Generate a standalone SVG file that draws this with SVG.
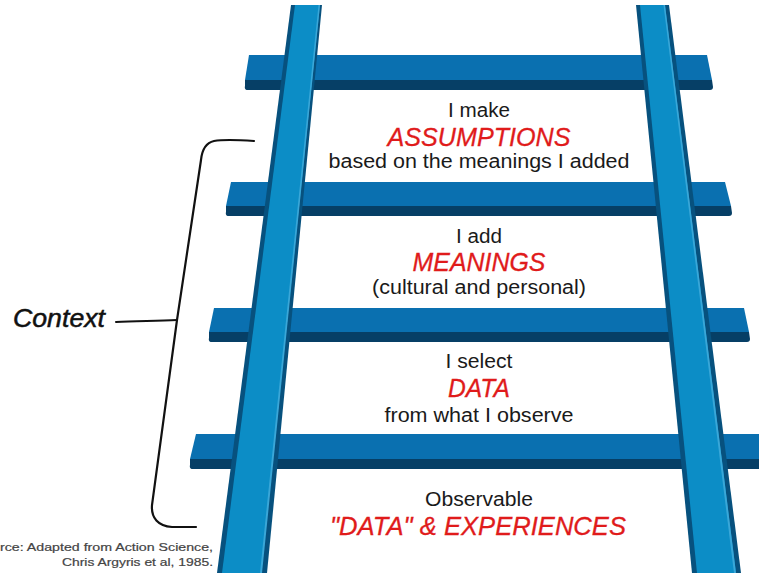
<svg xmlns="http://www.w3.org/2000/svg" width="759" height="573" viewBox="0 0 759 573">
<style>
.top{fill:#0a70b0}.low{fill:#063f66}.rail{fill:#0c8dc6}.edge{fill:#07517e}.side{fill:#0b74ac}.hi{fill:#3aa7d8}
text{font-family:"Liberation Sans",Arial,sans-serif}
.b{font-size:20px;fill:#1a1a1a;text-anchor:middle}
.r{font-size:26px;font-style:italic;fill:#e01b1b;text-anchor:middle;stroke:#e01b1b;stroke-width:.3}
.s{font-family:"Liberation Sans",sans-serif;font-size:11px;fill:#444;stroke:#444;stroke-width:.2;text-anchor:end}
.br{fill:none;stroke:#111;stroke-linecap:round}
</style>
<rect width="759" height="573" fill="#fff"/>
<g id="rungs">
<g id="rung1"><path class="low" d="M245 80H712L713 87Q713 90 710 90H248Q244 90 245 86Z"/><path class="top" d="M249 55H707L712 80H245Z"/></g>
<g id="rung2"><path class="low" d="M226 206H731L732 213Q732 216 729 216H229Q225 216 226 212Z"/><path class="top" d="M231 182H725L731 206H226Z"/></g>
<g id="rung3"><path class="low" d="M209 332H749L750 339Q750 342 747 342H212Q208 342 209 338Z"/><path class="top" d="M214 308H744L749 332H209Z"/></g>
<g id="rung4"><path class="low" d="M190 459H759V469H193Q189 469 190 465Z"/><path class="top" d="M196 434H759V459H190Z"/></g>
</g>
<g id="rails">
<g id="rail-left"><path class="edge" d="M291 5H322L267 573H217Z"/><path class="rail" d="M295 5H320L261 573H222Z"/><path class="hi" d="M318.500 5H320L262 573H260Z"/></g>
<g id="rail-right"><path class="edge" d="M636 5H669L741 573H692Z"/><path class="rail" d="M640 5H665L736 573H697Z"/><path class="hi" d="M663.500 5H665L736 573H734Z"/></g>
</g>
<g id="labels">
<g id="step-assumptions"><text class="b" x="479" y="117" textLength="62" lengthAdjust="spacingAndGlyphs">I make</text><text class="r" x="479" y="146" textLength="183" lengthAdjust="spacingAndGlyphs">ASSUMPTIONS</text><text class="b" x="479" y="168" textLength="301" lengthAdjust="spacingAndGlyphs">based on the meanings I added</text></g>
<g id="step-meanings"><text class="b" x="479" y="243" textLength="46" lengthAdjust="spacingAndGlyphs">I add</text><text class="r" x="479" y="271" textLength="133" lengthAdjust="spacingAndGlyphs">MEANINGS</text><text class="b" x="479" y="294" textLength="214" lengthAdjust="spacingAndGlyphs">(cultural and personal)</text></g>
<g id="step-data"><text class="b" x="479" y="368" textLength="67" lengthAdjust="spacingAndGlyphs">I select</text><text class="r" x="479" y="397" textLength="62" lengthAdjust="spacingAndGlyphs">DATA</text><text class="b" x="479" y="422" textLength="189" lengthAdjust="spacingAndGlyphs">from what I observe</text></g>
<g id="step-observable"><text class="b" x="479" y="506" textLength="108" lengthAdjust="spacingAndGlyphs">Observable</text><text class="r" x="478" y="535" textLength="296" lengthAdjust="spacingAndGlyphs">"DATA" &amp; EXPERIENCES</text></g>
</g>
<g id="context"><text x="13" y="327" font-size="25" font-style="italic" fill="#111" stroke="#111" stroke-width=".5" textLength="92" lengthAdjust="spacingAndGlyphs">Context</text></g>
<g id="connectors">
<path class="br" stroke-width="2.200" d="M254 141C240 140 225 139 214 141C205 143 202 150 201 160L177 320L152 505C151 518 158 526 172 527L196 527"/>
<path class="br" stroke-width="2" d="M116 322C135 321 155 321 177 320"/>
</g>
<g id="source"><text class="s" x="213" y="551" textLength="213" lengthAdjust="spacingAndGlyphs">rce: Adapted from Action Science,</text><text class="s" x="213" y="566" textLength="151" lengthAdjust="spacingAndGlyphs">Chris Argyris et al, 1985.</text></g>
</svg>
